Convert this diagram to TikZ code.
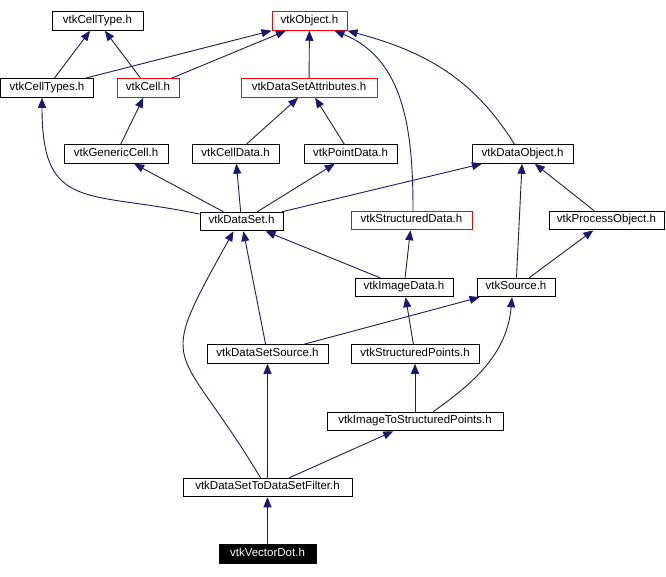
\documentclass[tikz,border=0pt]{standalone}
\usepackage{fontspec}
\setmainfont{Liberation Sans}
\usepackage{tikz}
\usetikzlibrary{arrows.meta}
\definecolor{edgeblue}{HTML}{191970}

\begin{document}
\begin{tikzpicture}[x=1pt, y=1pt,
        hdr/.style={draw=black, line width=1pt, fill=white, inner sep=0pt,
            minimum height=18.5pt, text height=8.3pt, text depth=3.7pt,
            font=\fontsize{11.5}{12}\selectfont},
        redhdr/.style={hdr, draw=red},
        curhdr/.style={hdr, fill=black, text=white},
        edge/.style={draw=edgeblue, line width=0.9pt, -{Triangle[length=10pt,width=8pt]}}]

            \useasboundingbox (0,0) rectangle (666,-576);

            % Draw the header boxes
            \node[hdr, minimum width=91pt] (celltype) at (97.5,-21) {vtkCellType.h};
            \node[redhdr, minimum width=75pt] (object) at (309.5,-21) {vtkObject.h};

            \node[hdr, minimum width=93pt] (celltypes) at (47,-88) {vtkCellTypes.h};
            \node[redhdr, minimum width=62pt] (cell) at (148,-88) {vtkCell.h};
            \node[redhdr, minimum width=136pt] (dsattr) at (309,-88) {vtkDataSetAttributes.h};

            \node[hdr, minimum width=104pt] (genericcell) at (116,-154) {vtkGenericCell.h};
            \node[hdr, minimum width=87pt] (celldata) at (235.5,-154) {vtkCellData.h};
            \node[hdr, minimum width=93pt] (pointdata) at (350.5,-154) {vtkPointData.h};
            \node[hdr, minimum width=101pt] (dataobject) at (522.5,-154) {vtkDataObject.h};

            \node[hdr, minimum width=83pt] (dataset) at (241.5,-221.5) {vtkDataSet.h};
            \node[redhdr, minimum width=121pt] (structdata) at (411.5,-220.5) {vtkStructuredData.h};
            \node[hdr, minimum width=115pt] (processobj) at (606.5,-220.5) {vtkProcessObject.h};

            \node[hdr, minimum width=98pt] (imagedata) at (404,-287.5) {vtkImageData.h};
            \node[hdr, minimum width=78pt] (source) at (516,-287.5) {vtkSource.h};

            \node[hdr, minimum width=121pt] (dssource) at (267.5,-354) {vtkDataSetSource.h};
            \node[hdr, minimum width=128pt] (structpoints) at (415,-354) {vtkStructuredPoints.h};

            \node[hdr, minimum width=176pt] (imgtosp) at (415,-421.5) {vtkImageToStructuredPoints.h};
            \node[hdr, minimum width=169pt] (dstodsf) at (267.5,-487.5) {vtkDataSetToDataSetFilter.h};
            \node[curhdr, minimum width=97pt] (vectordot) at (267.5,-554) {vtkVectorDot.h};

            % Draw the include edges, child to parent
            \draw[edge] (celltypes) -- (celltype);
            \draw[edge] (cell) -- (celltype);
            \draw[edge] (celltypes) -- (object);
            \draw[edge] (cell) -- (object);
            \draw[edge] (dsattr) -- (object);
            \draw[edge] ([xshift=1.5pt]structdata.north) to[out=90, in=-22] ([xshift=25pt]object.south);
            \draw[edge] ([xshift=-8pt]dataobject.north) to[out=122, in=-15] (object.south east);

            \draw[edge] (genericcell) -- (cell);
            \draw[edge] (celldata) -- (dsattr);
            \draw[edge] (pointdata) -- (dsattr);

            \draw[edge] (dataset.170) to[out=168, in=-90, looseness=1.5] ([xshift=-5pt]celltypes.south);
            \draw[edge] (dataset) -- (genericcell);
            \draw[edge] (dataset) -- (celldata);
            \draw[edge] (dataset) -- (pointdata);
            \draw[edge] (dataset) -- (dataobject);

            \draw[edge] (imagedata) -- (dataset);
            \draw[edge] (imagedata) -- (structdata);
            \draw[edge] (processobj) -- (dataobject);
            \draw[edge] (source) -- (dataobject);
            \draw[edge] (source) -- (processobj);

            \draw[edge] (dssource) -- (dataset);
            \draw[edge] (dssource) -- (source);
            \draw[edge] (structpoints) -- (imagedata);

            \draw[edge] (imgtosp) -- (structpoints);
            \draw[edge] ([xshift=18pt]imgtosp.north) to[out=35, in=-95] ([xshift=-4pt]source.south);

            \draw[edge] ([xshift=-7pt]dstodsf.north) to[out=121, in=-119, looseness=1.7] ([xshift=-8pt]dataset.south);
            \draw[edge] (dstodsf) -- (dssource);
            \draw[edge] (dstodsf) -- (imgtosp);

            \draw[edge] (vectordot) -- (dstodsf);

        \end{tikzpicture}
\end{document}
